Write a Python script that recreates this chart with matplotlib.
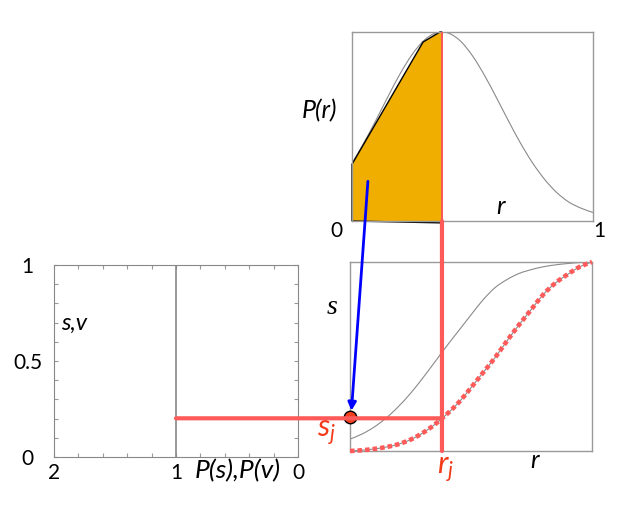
import numpy as np
import matplotlib.pyplot as plt
from matplotlib.patches import Polygon, ConnectionPatch, PathPatch
from matplotlib.path import Path
from matplotlib.transforms import blended_transform_factory

plt.rcParams['font.family'] = ['Lato', 'DejaVu Sans']
plt.rcParams['mathtext.fontset'] = 'custom'
plt.rcParams['mathtext.it'] = 'Lato:italic'
plt.rcParams['mathtext.rm'] = 'Lato'

# valeurs
r_grid = [0.00, 0.05, 0.10, 0.15, 0.20, 0.25, 0.30, 0.35, 0.40, 0.45, 0.50,
          0.55, 0.60, 0.65, 0.70, 0.75, 0.80, 0.85, 0.90, 0.95, 1.00]
p_r = [0.305, 0.415, 0.535, 0.66, 0.78, 0.882, 0.957, 0.996, 0.994, 0.952, 0.874,
       0.77, 0.651, 0.528, 0.41, 0.306, 0.219, 0.15, 0.10, 0.068, 0.045]
s_gray = [0.063, 0.090, 0.127, 0.175, 0.235, 0.305, 0.385, 0.47, 0.556, 0.638, 0.72,
          0.80, 0.865, 0.908, 0.94, 0.96, 0.975, 0.985, 0.992, 0.997, 1.0]
s_red = [0.0, 0.004, 0.011, 0.021, 0.036, 0.06, 0.095, 0.14, 0.195, 0.258, 0.335,
         0.415, 0.495, 0.585, 0.67, 0.75, 0.83, 0.89, 0.935, 0.975, 1.0]

# aire jaune sous P(r)
area_r = [0.0, 0.0, 0.295, 0.365, 0.373, 0.373]
area_p = [0.0, 0.30, 0.947, 1.0, 1.0, -0.01]

r_j = 0.38
s_j = 0.173

W, H = 626, 507
RED = '#FF5A5A'
RED_TXT = '#F23A1A'
GREY = '#999999'


def px(x, y):
    # pixels -> fraction de figure
    return x / W, 1 - y / H


def courbe_lisse(xs, ys):
    """Chemin de Bezier (Catmull-Rom) passant par les points lus."""
    pts = np.column_stack([xs, ys])
    verts = [pts[0]]
    codes = [Path.MOVETO]
    for i in range(len(pts) - 1):
        p0 = pts[max(i - 1, 0)]
        p1 = pts[i]
        p2 = pts[i + 1]
        p3 = pts[min(i + 2, len(pts) - 1)]
        verts += [p1 + (p2 - p0) / 6, p2 - (p3 - p1) / 6, p2]
        codes += [Path.CURVE4] * 3
    return Path(verts, codes)


fig = plt.figure(figsize=(W / 100, H / 100), dpi=100)
ax_top = fig.add_axes([352 / W, 1 - 221 / H, 241 / W, 189 / H])
ax_low = fig.add_axes([350 / W, 1 - 451 / H, 242 / W, 189 / H])
ax_left = fig.add_axes([54 / W, 1 - 457 / H, 244 / W, 192 / H])

for ax in (ax_top, ax_low):
    ax.set_xlim(0, 1)
    ax.set_ylim(0, 1)
    ax.set_xticks([])
    ax.set_yticks([])
    for sp in ax.spines.values():
        sp.set_color(GREY)
        sp.set_linewidth(1.0)

# P(r)
ax_top.add_patch(Polygon(list(zip(area_r, area_p)), closed=True, facecolor='#F0AE00',
                         edgecolor='black', linewidth=1.0, clip_on=False, zorder=2))
ax_top.add_patch(PathPatch(courbe_lisse(r_grid, p_r), facecolor='none',
                           edgecolor='#8a8a8a', linewidth=0.8, zorder=1))

# s(r)
ax_low.add_patch(PathPatch(courbe_lisse(r_grid, s_gray), facecolor='none',
                           edgecolor='#8a8a8a', linewidth=0.8, zorder=1))
ax_low.add_patch(PathPatch(courbe_lisse(r_grid, s_red), facecolor='none',
                           edgecolor='#8a8a8a', linewidth=0.8, zorder=2))
ax_low.add_patch(PathPatch(courbe_lisse(r_grid, s_red), facecolor='none',
                           edgecolor=RED, linewidth=3.3, linestyle=(0, (1, 0.65)),
                           zorder=3, clip_on=False))

# panneau de gauche
ax_left.set_xlim(2, 0)
ax_left.set_ylim(0, 1)
xt = np.round(np.arange(0, 2.01, 0.2), 1)
ax_left.set_xticks(xt)
ax_left.set_xticklabels(['0' if v == 0 else '1' if v == 1 else '2' if v == 2 else '' for v in xt])
yt = np.round(np.arange(0, 1.01, 0.1), 1)
ax_left.set_yticks(yt)
ax_left.set_yticklabels(['0' if v == 0 else '0.5' if v == 0.5 else '1' if v == 1 else '' for v in yt])
ax_left.tick_params(direction='in', top=True, right=True, length=3, width=0.8,
                    colors=GREY, labelcolor='black', labelsize=15)
ax_left.tick_params(axis='y', pad=19)
ax_left.tick_params(axis='x', pad=4)
for lab in ax_left.get_yticklabels():
    lab.set_horizontalalignment('center')
for sp in ax_left.spines.values():
    sp.set_color('#888888')
ax_left.axvline(1, color='#888888', linewidth=1.2)

# lignes rouges
tr_v = blended_transform_factory(ax_low.transData, ax_top.transAxes)
ax_top.plot([r_j, r_j], [0, 1], color=RED, linewidth=1.4, transform=tr_v, zorder=4)
con_v = ConnectionPatch(xyA=(r_j, 0), coordsA=tr_v, xyB=(r_j, 0), coordsB=ax_low.transData,
                        color=RED, linewidth=3.0, zorder=4)
fig.add_artist(con_v)

tr_h = blended_transform_factory(ax_left.transData, ax_low.transData)
con_h = ConnectionPatch(xyA=(1, s_j), coordsA=tr_h, xyB=(r_j, s_j), coordsB=ax_low.transData,
                        color=RED, linewidth=3.0, zorder=4)
fig.add_artist(con_h)

# fleche bleue
arrow = ConnectionPatch(xyA=(0.066, 0.21), coordsA=ax_top.transData,
                        xyB=(0.006, s_j + 0.04), coordsB=ax_low.transData,
                        arrowstyle='-|>', mutation_scale=12, color='#0000FF',
                        linewidth=2.0, zorder=6)
fig.add_artist(arrow)

ax_low.plot([0], [s_j + 0.005], marker='o', markersize=9, markerfacecolor='#F04020',
            markeredgecolor='black', markeredgewidth=1.0, clip_on=False, zorder=10)

# textes
fs = 15
fig.text(*px(320, 111), 'P(r)', fontsize=18, style='italic', ha='center', va='center')
fig.text(*px(336, 231), '0', fontsize=fs, ha='center', va='center')
fig.text(*px(599, 231), '1', fontsize=fs, ha='center', va='center')
fig.text(*px(501, 206), 'r', fontsize=18, style='italic', ha='center', va='center')

fig.text(*px(332, 307), 's', fontsize=20, style='italic', family='Liberation Serif',
         ha='center', va='center')
fig.text(*px(535, 461), 'r', fontsize=18, style='italic', ha='center', va='center')
fig.text(*px(326, 433), r'$s_j$', fontsize=22, color=RED_TXT, ha='center', va='center')
fig.text(*px(446, 470), r'$r_j$', fontsize=22, color=RED_TXT, ha='center', va='center')

fig.text(*px(74, 323), 's,v', fontsize=17, style='italic', ha='center', va='center')
fig.text(*px(238, 471), 'P(s),P(v)', fontsize=19, style='italic', ha='center', va='center')

fig.savefig('out.png', dpi=100)
